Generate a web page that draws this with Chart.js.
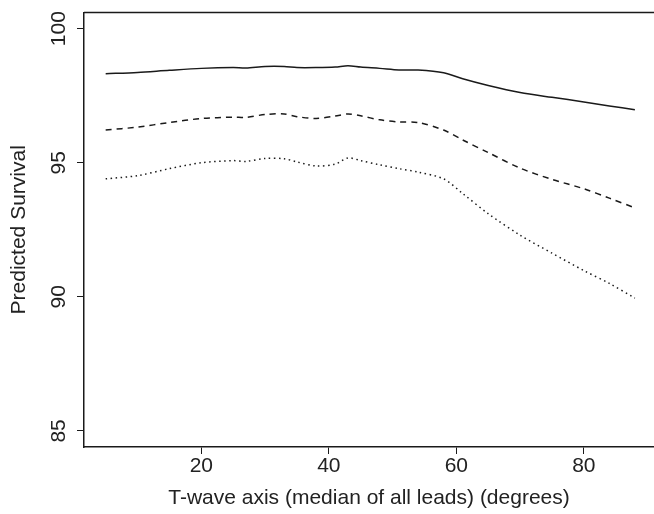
<!DOCTYPE html>
<html>
<head>
<meta charset="utf-8">
<script src="https://cdn.jsdelivr.net/npm/chart.js@4/dist/chart.umd.min.js"></script>
<style>
  body { margin: 0; background: #fff; overflow: hidden; }
</style>
</head>
<body>
<canvas id="chart" width="654" height="514"></canvas>
<script>
// T-wave axis (degrees) and predicted survival for the three curves
var xDeg = [5, 10, 15, 20, 25, 27, 30, 33, 35, 38, 41, 43, 45, 48, 51, 54, 58, 61, 65, 70, 75, 80, 84, 88];
var solidSurv = [98.32, 98.37, 98.45, 98.52, 98.55, 98.53, 98.59, 98.59, 98.55, 98.55, 98.57, 98.62, 98.57, 98.52, 98.46, 98.46, 98.36, 98.13, 97.88, 97.62, 97.44, 97.27, 97.12, 96.98];
var dashedSurv = [96.22, 96.33, 96.50, 96.65, 96.70, 96.69, 96.80, 96.82, 96.72, 96.65, 96.74, 96.82, 96.75, 96.60, 96.52, 96.50, 96.22, 95.85, 95.38, 94.80, 94.38, 94.03, 93.68, 93.32];
var dottedSurv = [94.40, 94.52, 94.78, 95.00, 95.08, 95.05, 95.16, 95.15, 95.03, 94.88, 94.95, 95.18, 95.08, 94.92, 94.78, 94.65, 94.40, 93.85, 93.10, 92.30, 91.63, 90.98, 90.50, 89.95];
var xTicks = [20, 40, 60, 80];
var yTicks = [85, 90, 95, 100];

var ink = '#1a1a1a';
var font = { family: '"Liberation Sans", Arial, Helvetica, sans-serif', size: 21 };

function pts(ys) {
    return xDeg.map(function (x, i) { return { x: x, y: ys[i] }; });
}

function line(ys, dash) {
    return {
        data: pts(ys),
        borderColor: ink,
        borderWidth: 1.5,
        borderDash: dash,
        borderCapStyle: 'butt',
        pointRadius: 0,
        tension: 0.3,
        fill: false
    };
}

// top edge of the plot box (R style box, right side falls off the picture)
var topEdge = {
    id: 'topEdge',
    afterDraw: function (chart) {
        var a = chart.chartArea, ctx = chart.ctx;
        ctx.save();
        ctx.strokeStyle = ink;
        ctx.lineWidth = 1.5;
        ctx.beginPath();
        ctx.moveTo(a.left, a.top);
        ctx.lineTo(a.right + 2, a.top);
        ctx.stroke();
        ctx.restore();
    }
};

new Chart(document.getElementById('chart'), {
    type: 'line',
    data: {
        datasets: [
            line(solidSurv, []),
            line(dashedSurv, [6, 5]),
            line(dottedSurv, [1.5, 3.5])
        ]
    },
    options: {
        responsive: false,
        animation: false,
        layout: { padding: { top: 12, right: 0, bottom: 0, left: 0 } },
        plugins: { legend: { display: false }, tooltip: { enabled: false } },
        scales: {
            x: {
                type: 'linear',
                min: 1.6,
                max: 91,
                afterBuildTicks: function (s) { s.ticks = xTicks.map(function (v) { return { value: v }; }); },
                afterFit: function (s) { s.height = 67; },
                border: { display: true, color: ink, width: 1.5 },
                grid: { drawOnChartArea: false, drawTicks: true, tickLength: 7, color: ink, lineWidth: 1 },
                ticks: { color: '#222', font: font, padding: 0, maxRotation: 0 },
                title: {
                    display: true,
                    text: 'T-wave axis (median of all leads) (degrees)',
                    color: '#222',
                    font: font,
                    padding: { top: 0, bottom: 3 }
                }
            },
            y: {
                min: 84.4,
                max: 100.6,
                afterBuildTicks: function (s) { s.ticks = yTicks.map(function (v) { return { value: v }; }); },
                afterFit: function (s) { s.width = 84; },
                border: { display: true, color: ink, width: 1.5 },
                grid: { drawOnChartArea: false, drawTicks: true, tickLength: 7, color: ink, lineWidth: 1 },
                ticks: { color: '#222', font: font, padding: 0, minRotation: 90, maxRotation: 90, crossAlign: 'center' },
                title: {
                    display: true,
                    text: 'Predicted Survival',
                    color: '#222',
                    font: font,
                    padding: { top: 7, bottom: 0 }
                }
            }
        }
    },
    plugins: [topEdge]
});
</script>
</body>
</html>
